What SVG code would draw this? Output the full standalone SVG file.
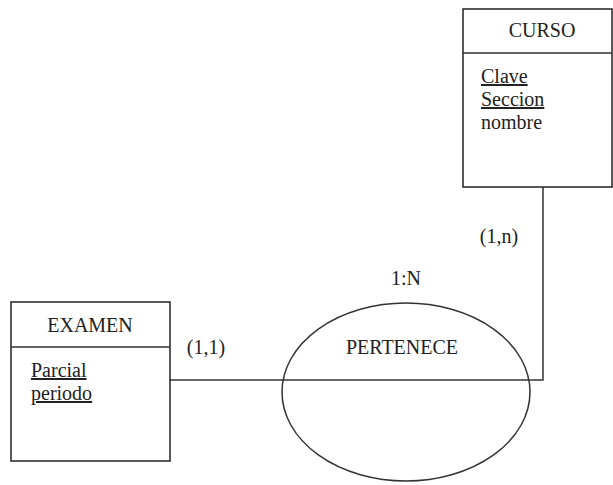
<svg xmlns="http://www.w3.org/2000/svg" width="613" height="485" viewBox="0 0 613 485">
<style>
text{font-family:'Liberation Serif','Times New Roman','DejaVu Serif',serif;font-size:20px;fill:#222}
.c{text-anchor:middle}
.box{fill:#fff;stroke:#222;stroke-width:1.5}
.ln{fill:none;stroke:#333;stroke-width:1.5}
.u{text-decoration:underline}
</style>
<rect width="613" height="485" fill="#fff"/>
<g id="connectors">
<polyline class="ln" points="170,380 543,380 543,187"/>
</g>
<g id="curso">
<rect class="box" x="463" y="9" width="149" height="178"/>
<line class="ln" x1="463" y1="53" x2="612" y2="53"/>
<text class="c" x="542" y="37">CURSO</text>
<text class="u" x="481" y="83">Clave</text>
<text class="u" x="481" y="106">Seccion</text>
<text x="481" y="129">nombre</text>
</g>
<g id="examen">
<rect class="box" x="11" y="302" width="159" height="159"/>
<line class="ln" x1="11" y1="347" x2="170" y2="347"/>
<text class="c" x="90" y="332">EXAMEN</text>
<text class="u" x="31" y="377">Parcial</text>
<text class="u" x="31" y="400">periodo</text>
</g>
<g id="pertenece">
<ellipse class="ln" cx="406" cy="392" rx="124" ry="89"/>
<text class="c" x="402" y="354">PERTENECE</text>
<text class="c" x="406" y="285">1:N</text>
</g>
<text class="c" x="206" y="354">(1,1)</text>
<text class="c" x="499" y="243">(1,n)</text>
</svg>
